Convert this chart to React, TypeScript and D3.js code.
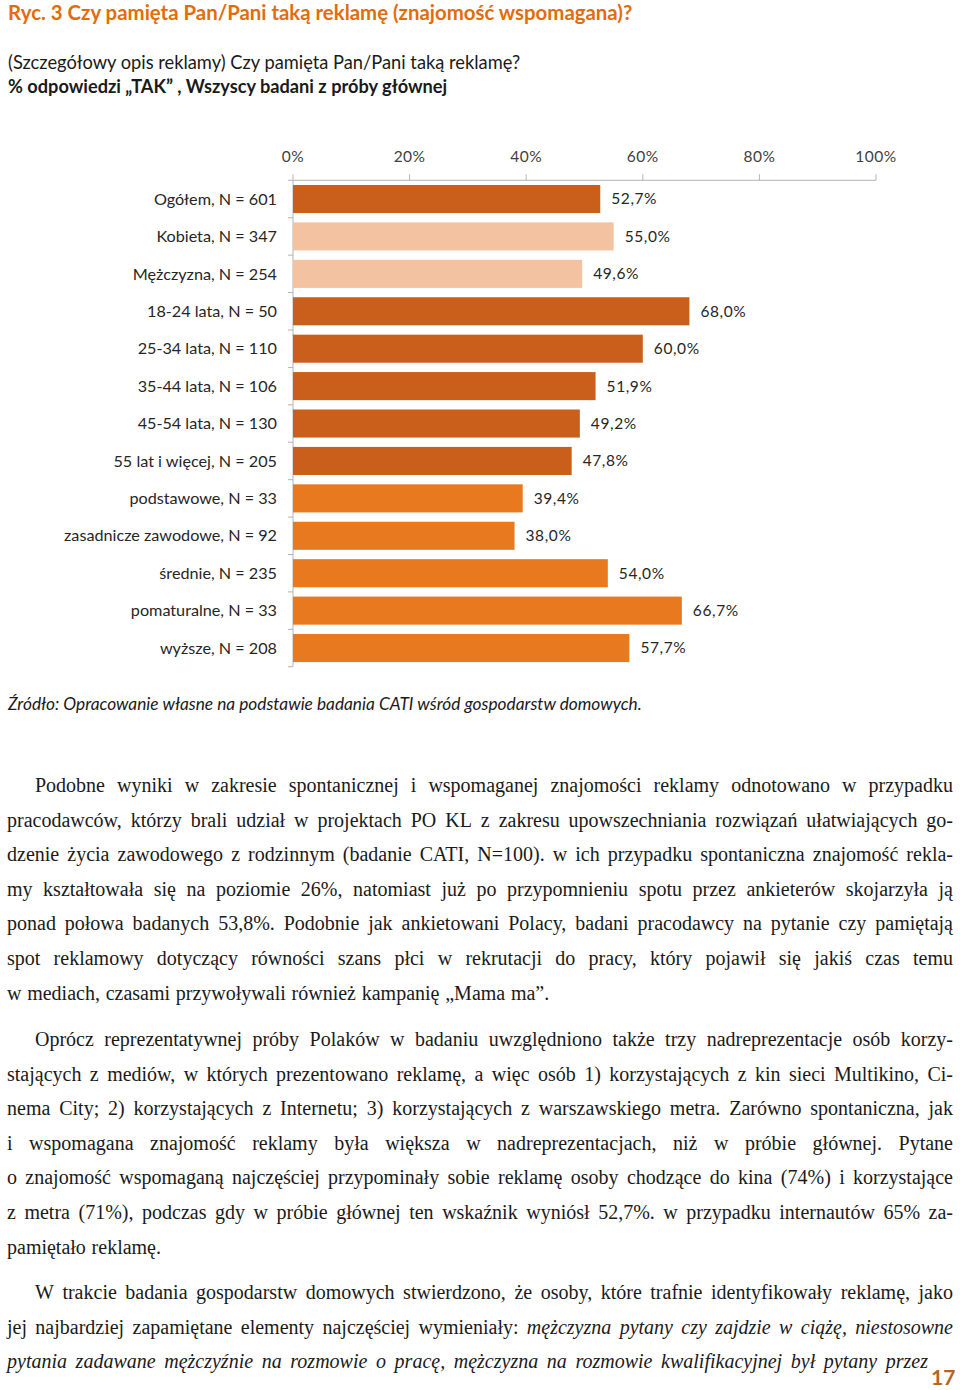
import React, { useMemo } from "react";
import * as d3 from "d3";

const categories = [
  "Ogółem, N = 601",
  "Kobieta, N = 347",
  "Mężczyzna, N = 254",
  "18-24 lata, N = 50",
  "25-34 lata, N = 110",
  "35-44 lata, N = 106",
  "45-54 lata, N = 130",
  "55 lat i więcej, N = 205",
  "podstawowe, N = 33",
  "zasadnicze zawodowe, N = 92",
  "średnie, N = 235",
  "pomaturalne, N = 33",
  "wyższe, N = 208",
];
const values = [52.7, 55.0, 49.6, 68.0, 60.0, 51.9, 49.2, 47.8, 39.4, 38.0, 54.0, 66.7, 57.7];
const groups = ["total", "gender", "gender", "age", "age", "age", "age", "age", "edu", "edu", "edu", "edu", "edu"];
const groupColors: Record<string, string> = {
  total: "#C95F1B",
  gender: "#F2C2A1",
  age: "#C95F1B",
  edu: "#E8791F",
};
const tickValues = [0, 20, 40, 60, 80, 100];

const title = "Ryc. 3 Czy pamięta Pan/Pani taką reklamę (znajomość wspomagana)?";
const subtitle1 = "(Szczegółowy opis reklamy) Czy pamięta Pan/Pani taką reklamę?";
const subtitle2 = "% odpowiedzi „TAK” , Wszyscy badani z próby głównej";
const source = "Źródło: Opracowanie własne na podstawie badania CATI wśród gospodarstw domowych.";
const pageNumber = "17";

type Seg = [string, boolean];
type Line = { segs: Seg[]; indent: boolean; last: boolean; short?: boolean };

const paragraph1: string[] = [
  "Podobne wyniki w zakresie spontanicznej i wspomaganej znajomości reklamy odnotowano w przypadku",
  "pracodawców, którzy brali udział w projektach PO KL z zakresu upowszechniania rozwiązań ułatwiających go-",
  "dzenie życia zawodowego z rodzinnym (badanie CATI, N=100). w ich przypadku spontaniczna znajomość rekla-",
  "my kształtowała się na poziomie 26%, natomiast już po przypomnieniu spotu przez ankieterów skojarzyła ją",
  "ponad połowa badanych 53,8%. Podobnie jak ankietowani Polacy, badani pracodawcy na pytanie czy pamiętają",
  "spot reklamowy dotyczący równości szans płci w rekrutacji do pracy, który pojawił się jakiś czas temu",
  "w mediach, czasami przywoływali również kampanię „Mama ma”.",
];
const paragraph2: string[] = [
  "Oprócz reprezentatywnej próby Polaków w badaniu uwzględniono także trzy nadreprezentacje osób korzy-",
  "stających z mediów, w których prezentowano reklamę, a więc osób 1) korzystających z kin sieci Multikino, Ci-",
  "nema City; 2) korzystających z Internetu; 3) korzystających z warszawskiego metra. Zarówno spontaniczna, jak",
  "i wspomagana znajomość reklamy była większa w nadreprezentacjach, niż w próbie głównej. Pytane",
  "o znajomość wspomaganą najczęściej przypominały sobie reklamę osoby chodzące do kina (74%) i korzystające",
  "z metra (71%), podczas gdy w próbie głównej ten wskaźnik wyniósł 52,7%. w przypadku internautów 65% za-",
  "pamiętało reklamę.",
];
const paragraph3: Seg[][] = [
  [["W trakcie badania gospodarstw domowych stwierdzono, że osoby, które trafnie identyfikowały reklamę, jako", false]],
  [
    ["jej najbardziej zapamiętane elementy najczęściej wymieniały:", false],
    ["mężczyzna pytany czy zajdzie w ciążę, niestosowne", true],
  ],
  [["pytania zadawane mężczyźnie na rozmowie o pracę, mężczyzna na rozmowie kwalifikacyjnej był pytany przez", true]],
];

const BODY_FONT = "'Liberation Serif', serif";
const BODY_SIZE = 20;
const LABEL_FONT = "Lato, 'Open Sans', sans-serif";

function buildLines(): Line[][] {
  const p1: Line[] = paragraph1.map((t, i) => ({ segs: [[t, false]], indent: i === 0, last: i === paragraph1.length - 1 }));
  const p2: Line[] = paragraph2.map((t, i) => ({ segs: [[t, false]], indent: i === 0, last: i === paragraph2.length - 1 }));
  const p3: Line[] = paragraph3.map((s, i) => ({ segs: s, indent: i === 0, last: false, short: i === paragraph3.length - 1 }));
  return [p1, p2, p3];
}

export default function App() {
  const W = 960;
  const H = 1390;
  const x0 = 293;
  const x1 = 876;
  const yTop = 180.3;
  const step = 37.42;

  const x = d3.scaleLinear().domain([0, 100]).range([x0, x1]);
  const y = d3
    .scaleBand<string>()
    .domain(categories)
    .range([yTop, yTop + step * categories.length])
    .paddingInner(0.25)
    .paddingOuter(0.125);

  const fmt = (v: number) => d3.format(".1f")(v).replace(".", ",") + "%";

  const paragraphs = useMemo(() => {
    const canvas = document.createElement("canvas");
    const ctx = canvas.getContext("2d")!;
    const measure = (w: string, italic: boolean) => {
      ctx.font = `${italic ? "italic " : ""}${BODY_SIZE}px ${BODY_FONT}`;
      return ctx.measureText(w).width;
    };
    const left = 7;
    const indentX = 35;
    return buildLines().map((lines) =>
      lines.map((line) => {
        const right = line.short ? 928 : 953;
        const words: { w: string; it: boolean; width: number }[] = [];
        line.segs.forEach(([t, it]) => {
          t.split(" ").filter((s) => s.length).forEach((w) => words.push({ w, it, width: measure(w, it) }));
        });
        const start = line.indent ? indentX : left;
        const sum = d3.sum(words, (d) => d.width);
        const space = measure(" ", false);
        const gap = line.last ? space * 1.15 : Math.max(space * 0.6, (right - start - sum) / (words.length - 1));
        let cx = start;
        return words.map((d) => {
          const pos = cx;
          cx += d.width + gap;
          return { ...d, x: pos };
        });
      })
    );
  }, []);

  const paraStarts = [792, 1046, 1299];
  const lineStep = 34.6;

  return (
    <svg
      width={W}
      height={H}
      viewBox={`0 0 ${W} ${H}`}
      style={{ position: "absolute", left: 0, top: 0, background: "#fff" }}
    >
      <rect width={W} height={H} fill="#fff" />
      {/* Header */}
      <text x={8} y={20} fontFamily={LABEL_FONT} fontWeight={700} fontSize={20.4} fill="#E36C0A">
        {title}
      </text>
      <text x={8} y={69} fontFamily={LABEL_FONT} fontSize={18.3} fill="#1a1a1a">
        {subtitle1}
      </text>
      <text x={8} y={93} fontFamily={LABEL_FONT} fontWeight={700} fontSize={18.2} fill="#1a1a1a">
        {subtitle2}
      </text>

      {/* Chart */}
      <g>
        {/* top axis */}
        <line x1={x0} x2={x1} y1={yTop} y2={yTop} stroke="#B3B3B3" strokeWidth={1} />
        {tickValues.map((t) => (
          <g key={t}>
            <line x1={x(t)} x2={x(t)} y1={yTop - 6} y2={yTop} stroke="#B3B3B3" />
            <text
              x={x(t)}
              y={162}
              textAnchor="middle"
              fontFamily={LABEL_FONT}
              fontSize={15.5}
              fill="#404040"
              letterSpacing={0.5}
            >
              {t}%
            </text>
          </g>
        ))}
        {/* left axis */}
        <line x1={x0} x2={x0} y1={yTop} y2={yTop + step * categories.length} stroke="#B3B3B3" />
        {d3.range(categories.length + 1).map((i) => (
          <line
            key={i}
            x1={x0 - 5}
            x2={x0}
            y1={yTop + step * i}
            y2={yTop + step * i}
            stroke="#B3B3B3"
          />
        ))}
        {categories.map((c, i) => (
          <g key={c}>
            <rect
              x={x(0)}
              y={y(c)!}
              width={x(values[i]) - x(0)}
              height={y.bandwidth()}
              fill={groupColors[groups[i]]}
            />
            <text
              x={277}
              y={y(c)! + y.bandwidth() / 2}
              dy="0.35em"
              textAnchor="end"
              fontFamily={LABEL_FONT}
              fontSize={16.2}
              fill="#262626"
            >
              {c}
            </text>
            <text
              x={x(values[i]) + 11}
              y={y(c)! + y.bandwidth() / 2}
              dy="0.35em"
              fontFamily={LABEL_FONT}
              fontSize={15.5}
              fill="#262626"
              letterSpacing={0.6}
            >
              {fmt(values[i])}
            </text>
          </g>
        ))}
      </g>

      {/* Source */}
      <text x={8} y={710} fontFamily={LABEL_FONT} fontStyle="italic" fontSize={17.3} fill="#1a1a1a">
        {source}
      </text>

      {/* Body text */}
      {paragraphs.map((lines, pi) =>
        lines.map((words, li) => (
          <text
            key={`${pi}-${li}`}
            y={paraStarts[pi] + li * lineStep}
            fontFamily={BODY_FONT}
            fontSize={BODY_SIZE}
            fill="#1a1a1a"
          >
            {words.map((w, wi) => (
              <tspan key={wi} x={w.x} fontStyle={w.it ? "italic" : "normal"}>
                {w.w}
              </tspan>
            ))}
          </text>
        ))
      )}

      <text x={931} y={1385} fontFamily={LABEL_FONT} fontWeight={700} fontSize={21} fill="#B5651D">
        {pageNumber}
      </text>
    </svg>
  );
}
